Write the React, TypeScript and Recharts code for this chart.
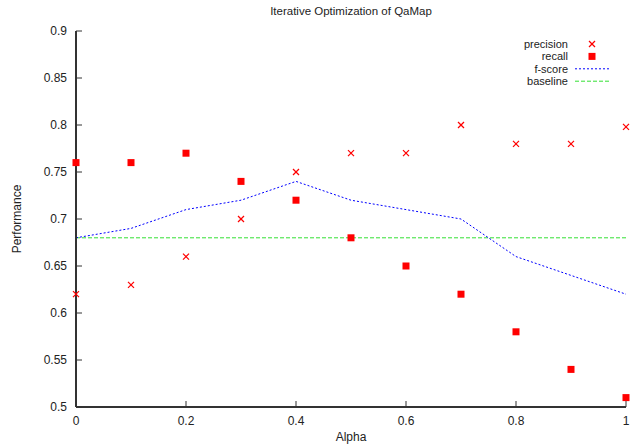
import React from "react";
import { ComposedChart, Line, Scatter, XAxis, YAxis } from "recharts";

const alpha = [0, 0.1, 0.2, 0.3, 0.4, 0.5, 0.6, 0.7, 0.8, 0.9, 1];
const precision = [0.62, 0.63, 0.66, 0.7, 0.75, 0.77, 0.77, 0.8, 0.78, 0.78, 0.798];
const recall = [0.76, 0.76, 0.77, 0.74, 0.72, 0.68, 0.65, 0.62, 0.58, 0.54, 0.51];
const fscore = [0.68, 0.69, 0.71, 0.72, 0.74, 0.72, 0.71, 0.7, 0.66, 0.64, 0.62];
const baseline = 0.68;

const xTicks = [0, 0.2, 0.4, 0.6, 0.8, 1];
const yTicks = [0.5, 0.55, 0.6, 0.65, 0.7, 0.75, 0.8, 0.85, 0.9];

const data = alpha.map((a, i) => ({
  alpha: a,
  precision: precision[i],
  recall: recall[i],
  fscore: fscore[i],
  baseline,
}));

const FONT = "'Liberation Sans', Arial, Helvetica, sans-serif";
const FRAME = "#333";
const TICK_LEN = 6;
const MARGIN = 9;

const BottomTick = (p: any) => {
  const axisY = p.y - MARGIN;
  return (
    <g>
      <line x1={p.x} x2={p.x} y1={axisY} y2={axisY - TICK_LEN} stroke={FRAME} />
      <text x={p.x} y={p.y} dy="0.75em" textAnchor="middle" fontSize={12} fill="#222" fontFamily={FONT}>
        {String(p.payload.value)}
      </text>
    </g>
  );
};

const LeftTick = (p: any) => {
  const axisX = p.x + MARGIN;
  return (
    <g>
      <line x1={axisX} x2={axisX + TICK_LEN} y1={p.y} y2={p.y} stroke={FRAME} />
      <text x={p.x} y={p.y} dy="0.35em" textAnchor="end" fontSize={12} fill="#222" fontFamily={FONT}>
        {String(p.payload.value)}
      </text>
    </g>
  );
};

const TopTick = (p: any) => (
  <line x1={p.x} x2={p.x} y1={p.y} y2={p.y + TICK_LEN} stroke={FRAME} />
);

const RightTick = (p: any) => (
  <line x1={p.x} x2={p.x - TICK_LEN} y1={p.y} y2={p.y} stroke={FRAME} />
);

const Cross = (p: any) => (
  <g stroke="#ff0000" strokeWidth={1.2}>
    <line x1={p.cx - 3} y1={p.cy - 3} x2={p.cx + 3} y2={p.cy + 3} />
    <line x1={p.cx - 3} y1={p.cy + 3} x2={p.cx + 3} y2={p.cy - 3} />
  </g>
);

const Square = (p: any) => (
  <rect x={p.cx - 3.5} y={p.cy - 3.5} width={7} height={7} fill="#ff0000" />
);

const legendRows = [
  { label: "precision", kind: "cross" },
  { label: "recall", kind: "square" },
  { label: "f-score", kind: "dotted" },
  { label: "baseline", kind: "dashed" },
];

// legend drawn as svg text so the rows can sit about 12px apart
const LegendBox = () => (
  <svg width={160} height={58} style={{ position: "absolute", top: 36, left: 466 }}>
    {legendRows.map((r, i) => {
      const cy = 8 + i * 12.4;
      return (
        <g key={r.label}>
          <text x={102} y={cy} dy="0.35em" textAnchor="end" fontSize={11} fill="#222" fontFamily={FONT}>
            {r.label}
          </text>
          {r.kind === "cross" && <Cross cx={126} cy={cy} />}
          {r.kind === "square" && <Square cx={126} cy={cy} />}
          {r.kind === "dotted" && (
            <line x1={109} x2={143} y1={cy} y2={cy} stroke="#0000ff" strokeDasharray="2 2" />
          )}
          {r.kind === "dashed" && (
            <line x1={109} x2={145} y1={cy} y2={cy} stroke="#33e033" strokeDasharray="4 2" />
          )}
        </g>
      );
    })}
  </svg>
);

export default function App() {
  return (
    <div style={{ position: "absolute", left: 0, top: 0, width: 631, height: 444, background: "#fff" }}>
      <div
        style={{
          position: "absolute",
          top: 5,
          left: 76,
          width: 550,
          textAlign: "center",
          fontSize: 11.5,
          fontFamily: FONT,
          color: "#222",
        }}
      >
        Iterative Optimization of QaMap
      </div>
      <ComposedChart
        width={631}
        height={444}
        data={data}
        margin={{ top: 31, right: 5, left: 0, bottom: 0 }}
      >
        <XAxis
          xAxisId="b"
          dataKey="alpha"
          type="number"
          domain={[0, 1]}
          ticks={xTicks}
          height={37}
          tickSize={0}
          tickMargin={MARGIN}
          tick={<BottomTick />}
          axisLine={{ stroke: FRAME, strokeWidth: 2 }}
        />
        <XAxis
          xAxisId="t"
          orientation="top"
          dataKey="alpha"
          type="number"
          domain={[0, 1]}
          ticks={xTicks}
          height={0}
          tickSize={0}
          tickMargin={0}
          tick={<TopTick />}
          axisLine={{ stroke: FRAME, strokeWidth: 2 }}
        />
        <YAxis
          yAxisId="l"
          type="number"
          domain={[0.5, 0.9]}
          ticks={yTicks}
          width={76}
          tickSize={0}
          tickMargin={MARGIN}
          tick={<LeftTick />}
          axisLine={{ stroke: FRAME, strokeWidth: 2 }}
        />
        <YAxis
          yAxisId="r"
          orientation="right"
          type="number"
          domain={[0.5, 0.9]}
          ticks={yTicks}
          width={0}
          tickSize={0}
          tickMargin={0}
          tick={<RightTick />}
          axisLine={{ stroke: FRAME, strokeWidth: 2 }}
        />
        <Line
          xAxisId="b"
          yAxisId="l"
          dataKey="baseline"
          type="linear"
          stroke="#33e033"
          strokeWidth={1}
          strokeDasharray="4 2"
          dot={false}
          isAnimationActive={false}
        />
        <Line
          xAxisId="b"
          yAxisId="l"
          dataKey="fscore"
          type="linear"
          stroke="#0000ff"
          strokeWidth={1}
          strokeDasharray="2 2"
          dot={false}
          isAnimationActive={false}
        />
        <Scatter xAxisId="b" yAxisId="l" dataKey="precision" shape={<Cross />} isAnimationActive={false} />
        <Scatter xAxisId="b" yAxisId="l" dataKey="recall" shape={<Square />} isAnimationActive={false} />
      </ComposedChart>
      <div
        style={{
          position: "absolute",
          top: 430,
          left: 76,
          width: 550,
          textAlign: "center",
          fontSize: 12,
          fontFamily: FONT,
          color: "#222",
        }}
      >
        Alpha
      </div>
      <div
        style={{
          position: "absolute",
          left: 17,
          top: 219,
          transform: "translate(-50%, -50%) rotate(-90deg)",
          fontSize: 12,
          fontFamily: FONT,
          color: "#222",
          whiteSpace: "nowrap",
        }}
      >
        Performance
      </div>
      <LegendBox />
    </div>
  );
}
